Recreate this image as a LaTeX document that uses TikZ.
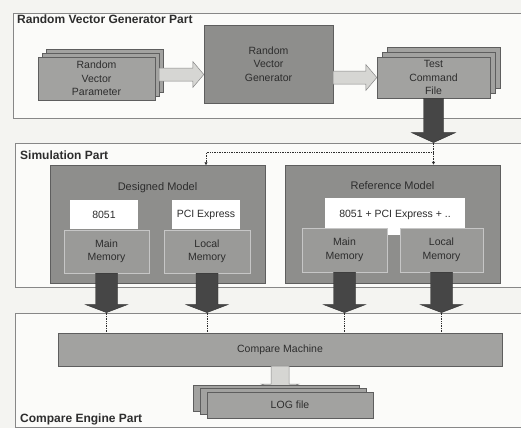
\documentclass[tikz,border=0pt]{standalone}
\usepackage{fontspec}
\setmainfont{Liberation Sans}
\usetikzlibrary{arrows.meta,calc,positioning}
\definecolor{PaperGray}{RGB}{244,244,241}
\definecolor{PanelWhite}{RGB}{251,251,249}
\definecolor{EdgeGray}{RGB}{135,135,135}
\definecolor{BoxGray}{RGB}{162,162,160}
\definecolor{ModelGray}{RGB}{142,142,140}
\definecolor{MemGray}{RGB}{154,154,152}
\definecolor{InkGray}{RGB}{45,45,45}
\definecolor{DarkArrow}{RGB}{70,70,70}
\definecolor{LightArrow}{RGB}{214,214,211}
\tikzset{
  panel/.style={
    draw=EdgeGray,
    fill=PanelWhite,
    line width=0.8pt,
    inner sep=0pt
  },
  title/.style={
    font=\fontsize{12}{14}\selectfont\bfseries,
    text=InkGray,
    inner sep=0pt,
    anchor=west
  },
  box/.style={
    draw=EdgeGray!70!black,
    fill=BoxGray,
    align=center,
    text=InkGray,
    font=\fontsize{10.5}{13.5}\selectfont,
    inner sep=0pt
  },
  model/.style={
    box,
    fill=ModelGray,
    minimum width=215pt,
    minimum height=118pt
  },
  modeltitle/.style={
    text=InkGray,
    font=\fontsize{11}{13}\selectfont,
    inner sep=0pt
  },
  whitebox/.style={
    box,
    draw=none,
    fill=white,
    minimum height=29pt
  },
  membox/.style={
    box,
    draw=white!55!gray,
    fill=MemGray,
    minimum height=43pt
  },
  lightarrow/.style={draw=EdgeGray,fill=LightArrow,line width=0.5pt},
  darkarrow/.style={draw=DarkArrow!70!black,fill=DarkArrow,line width=0.4pt},
  dotline/.style={densely dotted,draw=InkGray,line width=0.7pt},
  dottip/.style={-{Latex[length=3pt,width=3.5pt]}}
}
\newcommand{\blockright}[6]{%
  \draw[#1] let \p1=(#2), \p2=(#3) in
    (\x1,\y1+#4) -- (\x2-#6,\y1+#4) -- (\x2-#6,\y1+#5) -- (\x2,\y1)
    -- (\x2-#6,\y1-#5) -- (\x2-#6,\y1-#4) -- (\x1,\y1-#4) -- cycle;}
\newcommand{\blockdown}[6]{%
  \draw[#1] let \p1=(#2), \p2=(#3) in
    (\x1-#4,\y1) -- (\x1-#4,\y2+#6) -- (\x1-#5,\y2+#6) -- (\x1,\y2)
    -- (\x1+#5,\y2+#6) -- (\x1+#4,\y2+#6) -- (\x1+#4,\y1) -- cycle;}
\begin{document}
\begin{tikzpicture}[x=1pt,y=-1pt]

\path[fill=PaperGray,use as bounding box] (0,0) rectangle (521,428);

\node[panel,minimum width=517pt,minimum height=105pt] (rvgp) at (271.5,65.5) {};
\node[panel,minimum width=515pt,minimum height=144pt] (simp) at (272.5,215) {};
\node[panel,minimum width=515pt,minimum height=114pt] (cep) at (272.5,370) {};

\node[title] (t0) at (17,19) {Random Vector Generator Part};
\node[title] (t1) at (20,155) {Simulation Part};
\node[title] (t2) at (20,419) {Compare Engine Part};

\node[box,minimum width=117pt,minimum height=43pt] (rvp2) at (104.5,70.5) {};
\node[box,minimum width=117pt,minimum height=43pt] (rvp1) at (100.5,74.5) {};
\node[box,minimum width=117pt,minimum height=43pt] (rvp) at (96.5,78.5) {Random\\Vector\\Parameter};

\node[box,fill=ModelGray,minimum width=129pt,minimum height=78pt] (rvg) at (268.5,64) {Random\\Vector\\Generator};

\node[box,minimum width=113pt,minimum height=41pt] (tcf2) at (443.5,67.5) {};
\node[box,minimum width=113pt,minimum height=41pt] (tcf1) at (438.5,72.5) {};
\node[box,minimum width=113pt,minimum height=41pt] (tcf) at (433.5,77.5) {Test\\Command\\File};

\blockright{lightarrow}{rvp1.east}{rvg.west}{6.5pt}{13pt}{11pt}
\blockright{lightarrow}{rvg.east |- tcf.west}{tcf.west}{6.5pt}{13pt}{11pt}

\node[model] (dm) at (157.5,224.5) {};
\node[model] (rm) at (392.5,224) {};
\node[modeltitle,below=17pt of dm.north] (dmt) {Designed Model};
\node[modeltitle,below=17pt of rm.north] (rmt) {Reference Model};

\node[whitebox,minimum width=68pt] (d8051) at (104,214.5) {8051};
\node[whitebox,minimum width=68pt] (dpci) at (206,214.5) {PCI Express};
\node[membox,minimum width=85pt] (dmm) at (106.5,251.5) {Main\\Memory};
\node[membox,minimum width=86pt] (dlm) at (207,251.5) {Local\\Memory};

\node[whitebox,minimum width=140pt,minimum height=0pt,text height=19pt,text depth=18pt] (rw) at (395,216.5) {8051 + PCI Express + ..};
\node[membox,minimum width=85pt,minimum height=44pt] (rmm) at (344.5,250) {Main\\Memory};
\node[membox,minimum width=83pt,minimum height=44pt] (rlm) at (441.5,250) {Local\\Memory};

\coordinate (tip0) at (tcf.south |- simp.north);
\coordinate (bus) at ($(tip0)+(0,10)$);
\blockdown{darkarrow}{tcf.south}{tip0}{10pt}{22pt}{10pt}
\draw[dotline] (tip0) -- (bus);
\draw[dotline,dottip] (bus) -| (dpci.north |- dm.north);
\draw[dotline,dottip] (bus) -- (bus |- rm.north);

\node[box,minimum width=444pt,minimum height=33pt] (cm) at (280,349.5) {Compare Machine};

\coordinate (c1) at (dmm.south |- cep.north);
\coordinate (c2) at (dlm.south |- cep.north);
\coordinate (c3) at (rmm.south |- cep.north);
\coordinate (c4) at (rlm.south |- cep.north);
\blockdown{darkarrow}{dmm.south}{c1}{11pt}{21pt}{8pt}
\blockdown{darkarrow}{dlm.south}{c2}{11pt}{21pt}{8pt}
\blockdown{darkarrow}{rmm.south}{c3}{11pt}{21pt}{8pt}
\blockdown{darkarrow}{rlm.south}{c4}{11pt}{21pt}{8pt}
\draw[dotline] (c1) -- (c1 |- cm.north);
\draw[dotline] (c2) -- (c2 |- cm.north);
\draw[dotline] (c3) -- (c3 |- cm.north);
\draw[dotline] (c4) -- (c4 |- cm.north);

\coordinate (logtop) at (cm.south |- 0,392);
\blockdown{lightarrow}{cm.south}{logtop}{9pt}{19pt}{8pt}
\node[box,minimum width=166pt,minimum height=26pt] (log2) at (276,398) {};
\node[box,minimum width=166pt,minimum height=26pt] (log1) at (283,401.5) {};
\node[box,minimum width=166pt,minimum height=26pt] (log) at (290,405) {LOG file};

\end{tikzpicture}
\end{document}
